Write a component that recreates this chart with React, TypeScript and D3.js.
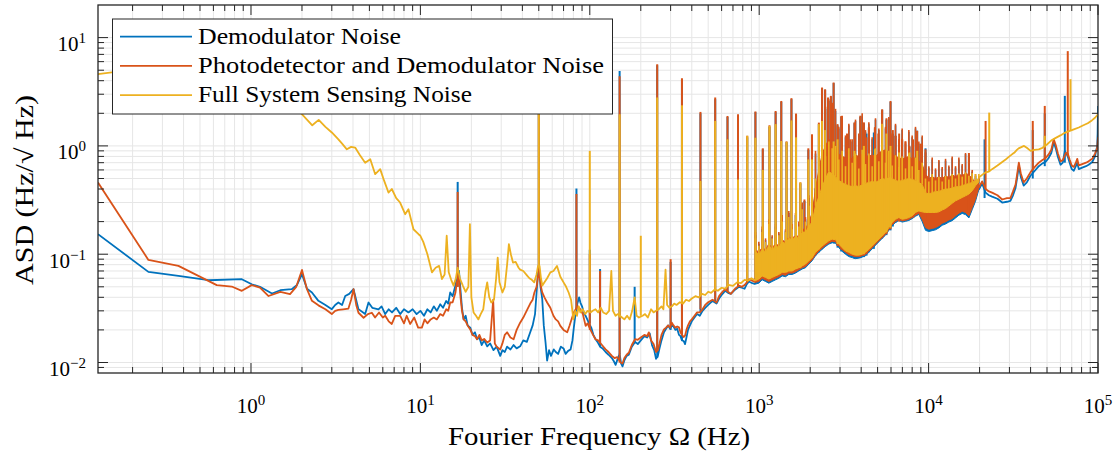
import React from 'react';
import * as d3 from 'd3';

// ---------- axes / labels ----------
const X_DOMAIN = [0.125, 1e5];
const Y_DOMAIN = [0.008, 20];
const xDecades = [0, 1, 2, 3, 4, 5];
const yDecades = [-2, -1, 0, 1];
const seriesNames = ['Demodulator Noise', 'Photodetector and Demodulator Noise', 'Full System Sensing Noise'];
const seriesColors = ['#0072BD', '#D95319', '#EDB120'];
const xTitle = 'Fourier Frequency \u03A9 (Hz)';
const yTitle = 'ASD (Hz/\u221A Hz)';

// ---------- Demodulator noise (blue) ----------
const demodLow = [
  [0.125, 0.153], [0.248, 0.0687], [0.373, 0.063], [0.561, 0.0575], [0.883, 0.0588], [1.01, 0.0528], [1.13, 0.05],
  [1.33, 0.0434], [1.49, 0.0465], [1.74, 0.0475], [1.87, 0.052], [2.0, 0.0654], [2.14, 0.0481], [2.29, 0.0443],
  [2.5, 0.0371], [2.75, 0.034], [3.0, 0.0311], [3.14, 0.034], [3.28, 0.0358], [3.45, 0.034], [3.6, 0.0411],
  [3.8, 0.043], [4.03, 0.0475], [4.31, 0.0311], [4.72, 0.028], [4.94, 0.0358], [5.2, 0.032], [5.66, 0.031],
  [5.9, 0.033], [6.2, 0.028], [6.5, 0.031], [6.8, 0.029], [7.2, 0.032], [7.6, 0.028], [8.0, 0.031], [8.5, 0.029],
  [9.0, 0.031], [9.5, 0.028], [10.0, 0.03], [10.5, 0.027], [11.0, 0.031], [11.5, 0.029], [12.0, 0.033], [12.5, 0.03],
  [13.1, 0.0345], [13.6, 0.032], [14.2, 0.037], [14.6, 0.035], [15.0, 0.0443], [15.5, 0.041], [16.1, 0.0513],
  [16.4, 0.06], [16.9, 0.07], [17.3, 0.044], [17.6, 0.032], [18.0, 0.025], [18.5, 0.027], [19.0, 0.022], [19.7, 0.021],
  [20.3, 0.018], [21.0, 0.019], [21.6, 0.0164], [22.3, 0.017], [23.0, 0.0145], [23.8, 0.016], [24.8, 0.0141],
  [25.8, 0.015], [27.0, 0.013], [28.2, 0.014], [29.6, 0.0115], [30.5, 0.013], [31.5, 0.0125], [32.5, 0.014],
  [34.0, 0.0132], [35.5, 0.0145], [37.0, 0.0135], [38.8, 0.0141], [40.5, 0.016], [42.5, 0.0155], [44.5, 0.019],
  [46.0, 0.022], [47.5, 0.028], [48.8, 0.05], [49.5, 0.07], [50.5, 0.07], [51.2, 0.05], [52.4, 0.0384], [53.5, 0.022],
  [54.8, 0.0153], [56, 0.0104], [57.5, 0.013], [59, 0.0115], [61.3, 0.0132], [63, 0.0125], [65, 0.012], [67.5, 0.014],
  [70, 0.0135], [72, 0.012], [74.5, 0.0128], [77, 0.0132], [79, 0.016], [80.5, 0.021], [82.6, 0.029], [84.5, 0.035],
  [86.5, 0.04], [88, 0.0358], [90, 0.033], [92, 0.029], [94.5, 0.027], [96.6, 0.025], [99, 0.023], [102, 0.021],
  [105, 0.018], [108, 0.0165], [111, 0.0155], [115, 0.014], [119, 0.0135], [124, 0.0125], [129, 0.0118], [135, 0.011],
  [139, 0.0102], [142, 0.0095], [146, 0.0108], [150, 0.012], [153, 0.0098], [156, 0.0092], [160, 0.0105], [165, 0.0115],
  [170, 0.0118], [177, 0.014], [185, 0.0155], [192, 0.0148], [200, 0.016], [210, 0.0175], [218, 0.017], [226, 0.0185],
  [233, 0.0145], [240, 0.013], [246, 0.0108], [252, 0.0115], [258, 0.0135], [265, 0.016], [274, 0.019], [282, 0.0205],
  [290, 0.022], [298, 0.0205], [305, 0.022], [312, 0.0215], [320, 0.02], [328, 0.0205], [336, 0.018], [343, 0.0175],
  [350, 0.016], [358, 0.0158], [365, 0.0148], [372, 0.017], [380, 0.02], [390, 0.022], [400, 0.024], [415, 0.026],
  [430, 0.028], [446, 0.027], [463, 0.03], [480, 0.032], [500, 0.034], [515, 0.0355], [530, 0.037], [545, 0.036],
  [560, 0.035], [580, 0.039], [600, 0.042], [615, 0.044], [630, 0.046], [655, 0.044], [680, 0.043], [720, 0.047],
  [760, 0.05], [790, 0.049], [820, 0.048], [845, 0.053], [870, 0.056], [910, 0.054], [951, 0.053],
];
const demodBandLo = [0.053, 0.054, 0.058, 0.056, 0.054, 0.056, 0.058, 0.060, 0.063, 0.062, 0.065, 0.065, 0.067, 0.070, 0.073, 0.075, 0.081, 0.087, 0.097, 0.104, 0.111, 0.118, 0.124, 0.128, 0.126, 0.115, 0.106, 0.100, 0.095, 0.093, 0.091, 0.092, 0.094, 0.097, 0.104, 0.112, 0.121, 0.130, 0.140, 0.150, 0.166, 0.184, 0.196, 0.205, 0.198, 0.201, 0.205, 0.213, 0.224, 0.233, 0.200, 0.166, 0.162, 0.165, 0.168, 0.175, 0.185, 0.190, 0.198, 0.204, 0.216, 0.229, 0.238, 0.232, 0.216, 0.258, 0.308, 0.395];
const demodBandHi = [
  0.105, 0.1, 0.11, 0.105, 0.12, 0.11, 0.12, 0.115, 0.13, 0.125, 0.14, 0.135, 0.145, 0.14, 0.165, 0.165, 0.19, 0.23,
  0.38, 0.57, 0.8, 0.95, 1.1, 1.05, 0.95,
  0.81, 0.76, 0.74, 0.71, 0.74, 0.78, 0.76, 0.8, 0.78, 0.76, 0.79, 0.76, 0.82, 0.86, 0.87, 0.84, 0.8, 0.76, 0.74, 0.72, 0.74, 0.76, 0.72, 0.74, 0.7, 0.65,
  0.53, 0.48, 0.5, 0.48, 0.5, 0.48, 0.51, 0.49, 0.52, 0.5, 0.53, 0.51, 0.54, 0.52, 0.48, 0.44, 0.45,
];
const demodBandPeak = [
  0.15, 0.125, 0.17, 0.135, 0.2, 0.145, 0.18, 0.155, 0.22, 0.165, 0.24, 0.18, 0.23, 0.19, 0.29, 0.21, 0.33, 0.43,
  0.85, 1.25, 1.8, 2.2, 2.6, 2.4, 2.1,
  1.45, 1.8, 1.2, 1.55, 1.1, 1.7, 1.25, 1.9, 1.35, 1.6, 1.15, 1.75, 1.4, 2.0, 1.45, 1.8, 1.25, 1.55, 1.1, 1.4, 1.05, 1.35, 1.2, 1.45, 1.05, 1.2,
  0.87, 0.63, 0.75, 0.6, 0.72, 0.62, 0.73, 0.64, 0.77, 0.63, 0.75, 0.66, 0.84, 0.6, 0.58, 0.53, 0.5,
];
const demodSpikes = [
  [16.6, 0.05, 0.465], [50, 0.07, 11.5], [83.4, 0.03, 0.404], [100, 0.023, 0.11], [115, 0.014, 0.073],
  [150, 0.012, 4.92], [184, 0.015, 0.05], [250, 0.011, 5.55], [300, 0.02, 0.085], [350, 0.016, 4.1],
  [450, 0.029, 2.0], [550, 0.036, 2.7], [650, 0.045, 1.85], [750, 0.05, 1.9], [850, 0.054, 1.2], [950, 0.055, 2.05],
  [1050, 0.06, 0.93], [1150, 0.063, 1.5], [1250, 0.063, 2.05], [1350, 0.065, 2.55], [1450, 0.068, 1.08],
  [1550, 0.07, 2.7], [1650, 0.072, 1.95], [1750, 0.075, 0.45], [1850, 0.08, 0.31], [1950, 0.085, 0.92],
  [2050, 0.09, 1.25], [2150, 0.097, 0.4], [2250, 0.104, 1.6], [2350, 0.111, 3.4], [2450, 0.118, 3.3],
  [2550, 0.124, 2.75], [2650, 0.126, 2.85], [2750, 0.126, 3.8], [2900, 0.115, 1.55], [3050, 0.106, 1.85],
  [3300, 0.1, 1.25], [3650, 0.091, 1.62], [3950, 0.092, 1.85], [4150, 0.094, 1.62], [4300, 0.097, 1.3],
  [4440, 0.104, 1.45], [4750, 0.112, 1.33], [4820, 0.121, 1.45], [5320, 0.14, 2.15], [5640, 0.15, 1.75],
  [5960, 0.166, 2.55], [6150, 0.18, 1.3], [6380, 0.196, 1.24], [6980, 0.205, 1.13], [7710, 0.213, 0.98],
  [8560, 0.233, 1.38], [9000, 0.22, 1.0], [9590, 0.2, 0.95], [17300, 0.23, 0.82], [21400, 0.33, 1.15],
  [41200, 0.5, 1.4], [48500, 0.65, 2.0], [63700, 0.7, 2.9],
];
const demodTail = [
  [19800, 0.395], [20700, 0.45], [21700, 0.37], [22700, 0.35], [23700, 0.34], [25500, 0.325], [27200, 0.3],
  [29000, 0.305], [30400, 0.31], [31500, 0.35], [32600, 0.41], [33400, 0.52], [34100, 0.66], [35000, 0.52],
  [36400, 0.43], [38000, 0.46], [39900, 0.53], [42000, 0.58], [44700, 0.65], [47000, 0.69], [49000, 0.71],
  [51000, 0.77], [53000, 0.86], [54800, 1.08], [56500, 0.93], [58000, 0.79], [60100, 0.67], [62000, 0.7],
  [63700, 0.9], [66300, 0.8], [68000, 0.7], [70000, 0.61], [72000, 0.59], [74000, 0.65], [75400, 0.7], [77000, 0.61],
  [80700, 0.63], [85000, 0.65], [88000, 0.67], [92500, 0.71], [96000, 0.8], [98900, 1.0], [99500, 1.3], [100000, 2.34],
];

// ---------- Photodetector and demodulator noise (orange) ----------
const pdLow = [
  [0.125, 0.459], [0.248, 0.0886], [0.373, 0.078], [0.628, 0.0518], [0.77, 0.0503], [0.883, 0.0459], [1.01, 0.0518],
  [1.13, 0.0492], [1.27, 0.0411], [1.49, 0.0449], [1.7, 0.0428], [1.85, 0.05], [2.0, 0.0716], [2.14, 0.0475],
  [2.29, 0.0371], [2.5, 0.0337], [2.75, 0.031], [3.0, 0.028], [3.14, 0.03], [3.28, 0.0306], [3.5, 0.031],
  [3.76, 0.0315], [3.9, 0.038], [4.03, 0.0475], [4.18, 0.034], [4.31, 0.0288], [4.62, 0.0259], [4.9, 0.028],
  [5.17, 0.0288], [5.4, 0.026], [5.7, 0.029], [6.0, 0.026], [6.2, 0.027], [6.5, 0.024], [6.78, 0.0227], [7.1, 0.027],
  [7.6, 0.027], [8.0, 0.023], [8.3, 0.027], [8.7, 0.0227], [9.2, 0.026], [9.7, 0.021], [10.2, 0.021], [10.6, 0.025],
  [11.0, 0.023], [11.5, 0.025], [12.0, 0.026], [12.5, 0.025], [13.1, 0.028], [13.6, 0.027], [14.2, 0.031],
  [14.6, 0.03], [15.0, 0.0358], [15.5, 0.036], [16.1, 0.044], [16.4, 0.055], [16.9, 0.06], [17.3, 0.0384],
  [17.6, 0.03], [18.0, 0.025], [18.5, 0.024], [19.0, 0.022], [19.7, 0.0202], [20.3, 0.018], [21.0, 0.0175],
  [21.6, 0.0164], [22.3, 0.018], [23.0, 0.016], [23.8, 0.0165], [24.8, 0.0153], [25.8, 0.016], [26.9, 0.038],
  [27.5, 0.015], [28.2, 0.014], [29.6, 0.0132], [30.5, 0.015], [31.5, 0.018], [32.5, 0.019], [34.0, 0.017],
  [35.5, 0.0164], [37.0, 0.02], [38.8, 0.0233], [40.5, 0.026], [42.8, 0.031], [44.5, 0.035], [46.0, 0.038],
  [47.1, 0.0443], [48.5, 0.05], [49.5, 0.063], [50.5, 0.063], [51.5, 0.05], [52.4, 0.0443], [54, 0.04], [56, 0.0358],
  [58.5, 0.032], [61, 0.027], [63, 0.025], [65, 0.024], [67, 0.0218], [70, 0.02], [73.6, 0.019], [76, 0.022],
  [78, 0.025], [80.4, 0.029], [82.6, 0.031], [85, 0.033], [88, 0.031], [91, 0.028], [94.5, 0.0218], [97, 0.023],
  [101, 0.02], [104.5, 0.018], [108, 0.0164], [112, 0.016], [118, 0.0145], [124, 0.0132], [129, 0.0125],
  [135, 0.0115], [140, 0.011], [145, 0.0112], [148, 0.0107], [152, 0.01], [156, 0.0098], [160, 0.011], [165, 0.0118],
  [170, 0.0123], [177, 0.0145], [185, 0.0164], [192, 0.0162], [200, 0.017], [210, 0.018], [218, 0.0175], [223, 0.019],
  [230, 0.016], [238, 0.0148], [246, 0.0125], [252, 0.013], [258, 0.015], [265, 0.018], [274, 0.0202], [282, 0.021],
  [290, 0.022], [298, 0.021], [305, 0.0233], [312, 0.022], [320, 0.021], [328, 0.0215], [336, 0.0211], [343, 0.019],
  [350, 0.018], [358, 0.0172], [365, 0.0177], [372, 0.02], [380, 0.022], [390, 0.024], [400, 0.025], [415, 0.027],
  [430, 0.029], [446, 0.029], [463, 0.031], [480, 0.034], [500, 0.036], [515, 0.037], [530, 0.038], [545, 0.037],
  [560, 0.0358], [580, 0.041], [600, 0.044], [615, 0.046], [630, 0.0475], [655, 0.045], [680, 0.043], [720, 0.048],
  [760, 0.0513], [790, 0.05], [820, 0.052], [845, 0.055], [870, 0.0588], [910, 0.057], [951, 0.055],
];
const pdBandLo = [0.055, 0.056, 0.060, 0.058, 0.056, 0.058, 0.060, 0.062, 0.065, 0.064, 0.067, 0.067, 0.069, 0.072, 0.075, 0.077, 0.083, 0.089, 0.099, 0.107, 0.114, 0.121, 0.127, 0.132, 0.130, 0.119, 0.110, 0.104, 0.099, 0.097, 0.095, 0.095, 0.097, 0.100, 0.107, 0.115, 0.124, 0.133, 0.143, 0.153, 0.170, 0.188, 0.201, 0.210, 0.203, 0.206, 0.210, 0.218, 0.229, 0.239, 0.210, 0.176, 0.170, 0.173, 0.176, 0.183, 0.193, 0.199, 0.207, 0.213, 0.226, 0.239, 0.249, 0.243, 0.226, 0.270, 0.322, 0.413];
const pdBandHi = [
  0.11, 0.105, 0.115, 0.11, 0.125, 0.115, 0.125, 0.12, 0.135, 0.13, 0.145, 0.14, 0.15, 0.145, 0.17, 0.17, 0.2, 0.24,
  0.4, 0.6, 0.85, 1.0, 1.15, 1.1, 1.0,
  0.85, 0.8, 0.78, 0.75, 0.78, 0.82, 0.8, 0.84, 0.82, 0.8, 0.83, 0.8, 0.86, 0.9, 0.92, 0.88, 0.84, 0.8, 0.78, 0.76, 0.78, 0.8, 0.76, 0.78, 0.74, 0.68,
  0.55, 0.5, 0.52, 0.5, 0.52, 0.5, 0.53, 0.51, 0.54, 0.52, 0.55, 0.53, 0.56, 0.54, 0.5, 0.46, 0.47,
];
const pdBandPeak = [
  0.16, 0.13, 0.18, 0.14, 0.21, 0.15, 0.19, 0.16, 0.23, 0.17, 0.25, 0.19, 0.24, 0.2, 0.3, 0.22, 0.35, 0.45,
  0.9, 1.3, 1.9, 2.3, 2.7, 2.5, 2.2,
  1.5, 1.9, 1.25, 1.6, 1.15, 1.75, 1.3, 2.0, 1.4, 1.65, 1.2, 1.8, 1.45, 2.1, 1.5, 1.85, 1.3, 1.6, 1.15, 1.45, 1.1, 1.4, 1.25, 1.5, 1.1, 1.25,
  0.87, 0.65, 0.78, 0.62, 0.74, 0.64, 0.76, 0.66, 0.8, 0.65, 0.78, 0.68, 0.86, 0.62, 0.6, 0.55, 0.52,
];
const pdSpikes = [
  [16.6, 0.05, 0.376], [50, 0.063, 10.8], [83.4, 0.031, 0.36], [100, 0.02, 0.1], [115, 0.015, 0.07],
  [150, 0.01, 4.4], [250, 0.013, 5.68], [300, 0.022, 0.09], [350, 0.018, 4.21], [450, 0.031, 2.06],
  [550, 0.038, 2.8], [650, 0.046, 1.89], [750, 0.051, 1.96], [850, 0.055, 1.24], [950, 0.056, 2.08],
  [1050, 0.062, 0.95], [1150, 0.065, 1.55], [1250, 0.065, 2.1], [1350, 0.067, 2.6], [1450, 0.07, 1.1],
  [1550, 0.072, 2.76], [1650, 0.075, 1.99], [1750, 0.077, 0.46], [1850, 0.083, 0.32], [1950, 0.089, 0.95],
  [2050, 0.094, 1.28], [2150, 0.099, 0.41], [2250, 0.107, 1.64], [2350, 0.114, 3.46], [2450, 0.121, 3.33],
  [2550, 0.127, 2.8], [2650, 0.132, 2.9], [2750, 0.13, 3.85], [2900, 0.119, 1.59], [3050, 0.11, 1.89],
  [3300, 0.104, 1.3], [3450, 0.099, 1.15], [3650, 0.095, 1.65], [3950, 0.095, 1.9], [4150, 0.097, 1.65],
  [4300, 0.1, 1.2], [4440, 0.107, 1.49], [4820, 0.124, 1.49], [5050, 0.133, 1.3], [5320, 0.143, 2.18],
  [5640, 0.153, 1.8], [5960, 0.17, 2.6], [6150, 0.19, 1.4], [6380, 0.201, 1.24], [6700, 0.2, 1.3],
  [6980, 0.21, 1.16], [7300, 0.206, 1.1], [7710, 0.218, 1.0], [8100, 0.218, 1.15], [8560, 0.239, 1.38],
  [9000, 0.229, 1.05], [9590, 0.21, 0.93], [17300, 0.243, 0.86], [21700, 0.4, 1.7], [41200, 0.6, 1.7],
  [48500, 0.75, 2.34], [66300, 0.8, 7.5],
];
const pdTail = [
  [19800, 0.413], [20700, 0.47], [21700, 0.4], [22700, 0.38], [23700, 0.37], [25500, 0.35], [27200, 0.32],
  [29000, 0.33], [30400, 0.33], [31500, 0.38], [32600, 0.44], [33400, 0.56], [34100, 0.7], [35000, 0.56],
  [36400, 0.46], [38000, 0.5], [39900, 0.57], [42000, 0.63], [44700, 0.7], [47000, 0.74], [49000, 0.77],
  [51000, 0.83], [53000, 0.92], [54800, 1.15], [56500, 1.0], [58000, 0.85], [60100, 0.72], [62000, 0.74],
  [64500, 0.86], [66300, 0.85], [68000, 0.75], [70000, 0.66], [72000, 0.64], [74000, 0.7], [75400, 0.76],
  [77000, 0.66], [80700, 0.68], [85000, 0.7], [88000, 0.72], [92500, 0.76], [96000, 0.85], [98900, 0.95], [100000, 1.2],
];

// ---------- Full system sensing noise (yellow) ----------
const fullLow = [
  [0.125, 4.59], [0.255, 5.3], [0.367, 5.03], [0.5, 4.4], [0.632, 3.85], [0.757, 3.79], [0.867, 3.22], [0.97, 3.22],
  [1.11, 3.85], [1.25, 3.53], [1.4, 3.1], [1.56, 2.7], [1.75, 2.35], [1.96, 2.03], [2.14, 1.75], [2.3, 1.55],
  [2.51, 1.74], [2.75, 1.5], [3.0, 1.33], [3.28, 1.15], [3.45, 1.05], [3.68, 0.93], [3.9, 0.98], [4.12, 0.966],
  [4.4, 0.82], [4.72, 0.7], [5.06, 0.754], [5.41, 0.548], [5.79, 0.61], [6.1, 0.48], [6.48, 0.371], [6.78, 0.4],
  [7.2, 0.33], [7.59, 0.3], [8.13, 0.234], [8.5, 0.26], [9.1, 0.17], [9.75, 0.153], [10.0, 0.148], [10.4, 0.13],
  [11.0, 0.1], [11.7, 0.068], [12.3, 0.075], [12.9, 0.078], [13.4, 0.059], [13.9, 0.065], [14.3, 0.148],
  [14.7, 0.068], [15.2, 0.058], [15.7, 0.0513], [16.2, 0.06], [16.6, 0.075], [17.1, 0.06], [17.8, 0.0513],
  [18.5, 0.045], [19.2, 0.05], [19.6, 0.189], [20.0, 0.04], [20.6, 0.029], [21.3, 0.027], [22.0, 0.025],
  [22.7, 0.028], [23.5, 0.031], [24.2, 0.045], [24.8, 0.055], [25.5, 0.04], [26.2, 0.0358], [27.2, 0.038],
  [28.0, 0.06], [28.6, 0.093], [29.3, 0.055], [30.5, 0.0443], [31.5, 0.05], [32.5, 0.08], [33.3, 0.124],
  [34.2, 0.1], [35.2, 0.0837], [36.5, 0.085], [38, 0.075], [38.8, 0.072], [40.5, 0.07], [42.8, 0.063], [44, 0.06],
  [45.5, 0.058], [47, 0.055], [48.5, 0.065], [49.5, 0.078], [50.5, 0.078], [51.5, 0.06], [52.5, 0.0513], [54, 0.055],
  [56, 0.06], [58.5, 0.068], [61, 0.07], [64, 0.078], [67, 0.062], [70, 0.055], [72.5, 0.05], [75, 0.0443],
  [77.5, 0.038], [80, 0.025], [82, 0.03], [84, 0.027], [86, 0.033], [88, 0.029], [91, 0.031], [94, 0.028], [97, 0.03],
  [101, 0.029], [104, 0.03], [108, 0.031], [112, 0.029], [116, 0.032], [120, 0.029], [125, 0.028], [130, 0.03],
  [134, 0.07], [137, 0.03], [142, 0.027], [146, 0.028], [155, 0.026], [160, 0.025], [166, 0.027], [172, 0.025],
  [178, 0.03], [184, 0.04], [189, 0.027], [195, 0.026], [205, 0.027], [212, 0.028], [220, 0.026], [230, 0.031],
  [238, 0.029], [246, 0.03], [255, 0.031], [265, 0.033], [272, 0.031], [280, 0.072], [286, 0.034], [295, 0.032],
  [305, 0.033], [315, 0.035], [325, 0.034], [340, 0.036], [355, 0.035], [370, 0.038], [385, 0.037], [400, 0.039],
  [420, 0.041], [440, 0.04], [460, 0.043], [480, 0.042], [500, 0.045], [520, 0.044], [545, 0.047], [570, 0.046],
  [600, 0.049], [630, 0.048], [660, 0.052], [700, 0.051], [740, 0.055], [780, 0.054], [820, 0.058], [860, 0.057],
  [900, 0.06], [951, 0.057],
];
const fullBandLo = [0.057, 0.059, 0.063, 0.061, 0.059, 0.061, 0.063, 0.065, 0.068, 0.068, 0.070, 0.070, 0.073, 0.075, 0.078, 0.081, 0.087, 0.093, 0.104, 0.111, 0.119, 0.126, 0.133, 0.138, 0.136, 0.124, 0.115, 0.107, 0.104, 0.100, 0.098, 0.098, 0.100, 0.104, 0.111, 0.119, 0.128, 0.138, 0.148, 0.159, 0.176, 0.196, 0.210, 0.218, 0.210, 0.213, 0.218, 0.226, 0.243, 0.251, 0.246, 0.243, 0.243, 0.243, 0.243, 0.246, 0.256, 0.264, 0.279, 0.295, 0.311, 0.322, 0.334, 0.346, 0.359, 0.385, 0.428, 0.466];
const fullBandHi = [
  0.105, 0.1, 0.11, 0.105, 0.12, 0.11, 0.12, 0.115, 0.13, 0.125, 0.14, 0.135, 0.145, 0.14, 0.16, 0.16, 0.18, 0.2,
  0.28, 0.34, 0.42, 0.5, 0.58, 0.55, 0.52,
  0.48, 0.46, 0.44, 0.43, 0.42, 0.43, 0.42, 0.44, 0.45, 0.46, 0.47, 0.46, 0.48, 0.5, 0.49, 0.51, 0.5, 0.48, 0.47, 0.48, 0.49, 0.5, 0.49, 0.48, 0.46, 0.44,
  0.37, 0.36, 0.37, 0.38, 0.38, 0.39, 0.4, 0.4, 0.41, 0.42, 0.42, 0.43, 0.44, 0.45, 0.46, 0.48, 0.5,
];
const fullBandPeak = [
  0.14, 0.12, 0.16, 0.13, 0.19, 0.14, 0.17, 0.15, 0.2, 0.16, 0.22, 0.17, 0.21, 0.18, 0.26, 0.2, 0.28, 0.3,
  0.5, 0.65, 0.9, 0.8, 1.1, 0.95, 1.0,
  0.75, 0.9, 0.65, 0.95, 0.7, 0.85, 0.62, 0.92, 0.68, 0.85, 0.65, 0.95, 0.72, 1.05, 0.7, 0.9, 0.66, 0.82, 0.64, 0.8, 0.62, 0.85, 0.65, 0.78, 0.6, 0.7,
  0.5, 0.47, 0.55, 0.48, 0.52, 0.47, 0.53, 0.49, 0.55, 0.5, 0.56, 0.52, 0.57, 0.53, 0.56, 0.55, 0.55,
];
const fullSpikes = [
  [50, 0.078, 10.3], [100, 0.03, 0.9], [150, 0.026, 1.96], [200, 0.027, 0.148], [250, 0.03, 2.8], [350, 0.035, 2.37],
  [450, 0.042, 0.475], [550, 0.046, 1.7], [650, 0.05, 1.15], [750, 0.054, 0.49], [850, 0.058, 1.24], [950, 0.06, 1.19],
  [1050, 0.063, 0.6], [1150, 0.059, 1.53], [1250, 0.063, 1.59], [1350, 0.068, 1.11], [1450, 0.068, 1.09],
  [1550, 0.07, 1.72], [1650, 0.073, 1.2], [1750, 0.075, 0.46], [1950, 0.087, 0.75], [2050, 0.093, 0.75],
  [2250, 0.111, 1.59], [2350, 0.119, 1.7], [2450, 0.126, 1.4], [2750, 0.136, 1.1], [2900, 0.124, 1.15],
  [3650, 0.1, 0.9], [4150, 0.1, 1.0], [4820, 0.128, 0.93], [5320, 0.148, 1.6], [5640, 0.159, 1.3], [5960, 0.176, 1.0],
  [6700, 0.218, 0.87], [7710, 0.226, 0.87], [8560, 0.25, 0.9], [22800, 0.58, 2.03], [48500, 0.97, 1.24],
  [68800, 1.38, 4.13],
];
const fullTail = [
  [19800, 0.511], [20700, 0.54], [21700, 0.57], [22700, 0.58], [23700, 0.61], [25500, 0.66], [27200, 0.71],
  [28500, 0.75], [30000, 0.8], [31200, 0.84], [32200, 0.87], [33200, 0.92], [34000, 0.95], [35000, 0.97],
  [36600, 1.0], [38000, 0.96], [40000, 0.9], [42000, 0.92], [44700, 0.93], [47000, 0.96], [50000, 1.03],
  [52900, 1.12], [56000, 1.18], [60000, 1.25], [63000, 1.31], [67000, 1.36], [72000, 1.42], [77000, 1.48],
  [82000, 1.55], [87000, 1.62], [92000, 1.72], [96000, 1.82], [100000, 1.96],
];

// shared frequency grid of the dense 1 kHz - 20 kHz band
const bandFreqs = [951, 995, 1041, 1090, 1140, 1193, 1249, 1306, 1367, 1430, 1496, 1566, 1638, 1714, 1794, 1877, 1964, 2055, 2150, 2250, 2354, 2463, 2577, 2697, 2822, 2952, 3089, 3232, 3382, 3539, 3703, 3874, 4054, 4242, 4439, 4644, 4859, 5085, 5321, 5567, 5825, 6095, 6378, 6673, 6982, 7306, 7645, 7999, 8369, 8757, 9166, 9590, 10030, 10500, 10990, 11500, 12030, 12590, 13170, 13780, 14420, 15090, 15790, 16520, 17290, 18090, 18920, 19800];

const PLOT = { left: 98, right: 1098, top: 5, bottom: 373 };
const FONT = "'Liberation Serif', 'Times New Roman', serif";

export default function App() {
  const x = d3.scaleLog().domain(X_DOMAIN).range([PLOT.left, PLOT.right]);
  const y = d3.scaleLog().domain(Y_DOMAIN).range([PLOT.bottom, PLOT.top]);
  const lineGen = d3.line<number[]>().x(d => x(d[0])).y(d => y(d[1]));
  const areaGen = d3.area<number[]>().x(d => x(d[0])).y0(d => y(d[1])).y1(d => y(d[2]));

  const series = [
    { low: demodLow, lo: demodBandLo, hi: demodBandHi, pk: demodBandPeak, spikes: demodSpikes, tail: demodTail },
    { low: pdLow, lo: pdBandLo, hi: pdBandHi, pk: pdBandPeak, spikes: pdSpikes, tail: pdTail },
    { low: fullLow, lo: fullBandLo, hi: fullBandHi, pk: fullBandPeak, spikes: fullSpikes, tail: fullTail },
  ];

  const isMajor = (v: number) => Math.abs(Math.log10(v) - Math.round(Math.log10(v))) < 1e-6;
  const inside = (v: number, dom: number[]) => v > dom[0] * 1.0001 && v < dom[1] * 0.9999;
  const xTicks = x.ticks().filter(v => inside(v, X_DOMAIN) || isMajor(v));
  const yTicks = y.ticks().filter(v => inside(v, Y_DOMAIN));
  const tickColor = '#262626';
  const gridColor = '#e6e6e6';
  const LW = 1.8;

  return (
    <svg width={1117} height={457} style={{ position: 'absolute', left: 0, top: 0, background: '#fff' }}
      fontFamily={FONT}>
      <defs>
        <clipPath id="plotClip">
          <rect x={PLOT.left} y={PLOT.top} width={PLOT.right - PLOT.left} height={PLOT.bottom - PLOT.top} />
        </clipPath>
      </defs>
      <rect x={0} y={0} width={1117} height={457} fill="#fff" />
      {/* grid */}
      <g stroke={gridColor} strokeWidth={1}>
        {xTicks.filter(v => inside(v, X_DOMAIN)).map((v, i) => (
          <line key={'gx' + i} x1={x(v)} x2={x(v)} y1={PLOT.top} y2={PLOT.bottom} />
        ))}
        {yTicks.map((v, i) => (
          <line key={'gy' + i} x1={PLOT.left} x2={PLOT.right} y1={y(v)} y2={y(v)} />
        ))}
      </g>
      {/* data */}
      <g clipPath="url(#plotClip)" fill="none" strokeLinejoin="round">
        {series.map((s, si) => {
          const n = Math.min(bandFreqs.length, s.lo.length, s.hi.length, s.pk.length);
          const band = bandFreqs.slice(0, n).map((f, i) => [f, s.lo[i], s.hi[i]]);
          const c = seriesColors[si];
          return (
            <g key={'s' + si}>
              <path d={lineGen(s.low) || ''} stroke={c} strokeWidth={LW} />
              <path d={areaGen(band) || ''} fill={c} stroke={c} strokeWidth={1} />
              {band.map((b, i) => (
                <line key={'bp' + i} x1={x(b[0])} x2={x(b[0])} y1={y(b[2])} y2={y(s.pk[i])}
                  stroke={c} strokeWidth={1.6} />
              ))}
              <path d={lineGen(s.tail) || ''} stroke={c} strokeWidth={LW} />
              {s.spikes.map((p, i) => (
                <line key={'sp' + i} x1={x(p[0])} x2={x(p[0])} y1={y(p[1])} y2={y(p[2])}
                  stroke={c} strokeWidth={2} />
              ))}
            </g>
          );
        })}
      </g>
      {/* ticks */}
      <g stroke={tickColor} strokeWidth={1}>
        {xTicks.map((v, i) => {
          const len = isMajor(v) ? 10 : 6;
          const X = x(v);
          return (
            <g key={'tx' + i}>
              <line x1={X} x2={X} y1={PLOT.bottom} y2={PLOT.bottom - len} />
              <line x1={X} x2={X} y1={PLOT.top} y2={PLOT.top + len} />
            </g>
          );
        })}
        {yTicks.map((v, i) => {
          const len = isMajor(v) ? 10 : 6;
          const Y = y(v);
          return (
            <g key={'ty' + i}>
              <line x1={PLOT.left} x2={PLOT.left + len} y1={Y} y2={Y} />
              <line x1={PLOT.right} x2={PLOT.right - len} y1={Y} y2={Y} />
            </g>
          );
        })}
      </g>
      <rect x={PLOT.left} y={PLOT.top} width={PLOT.right - PLOT.left} height={PLOT.bottom - PLOT.top}
        fill="none" stroke={tickColor} strokeWidth={1.3} />
      {/* tick labels */}
      <g fill="#000" fontSize={21}>
        {xDecades.map(e => (
          <text key={'lx' + e} x={x(Math.pow(10, e))} y={413} textAnchor="middle">
            <tspan>10</tspan>
            <tspan fontSize={15} dy={-8}>{String(e)}</tspan>
          </text>
        ))}
        {yDecades.map(e => (
          <text key={'ly' + e} x={86} y={y(Math.pow(10, e)) + 13.5} textAnchor="end">
            <tspan>10</tspan>
            <tspan fontSize={15} dy={-8}>{e < 0 ? '\u2212' + Math.abs(e) : String(e)}</tspan>
          </text>
        ))}
      </g>
      {/* axis titles */}
      <text x={599} y={445} textAnchor="middle" fontSize={25} textLength={302} lengthAdjust="spacingAndGlyphs">{xTitle}</text>
      <text transform="translate(33,190) rotate(-90)" textAnchor="middle" fontSize={25} textLength={190}
        lengthAdjust="spacingAndGlyphs">{yTitle}</text>
      {/* legend */}
      <g>
        <rect x={112.5} y={19} width={500} height={95} fill="#fff" stroke={tickColor} strokeWidth={1} />
        {seriesNames.map((name, i) => {
          const ly = 36.7 + i * 29.2;
          const widths = [203, 406, 274];
          return (
            <g key={'lg' + i}>
              <line x1={120} x2={192} y1={ly} y2={ly} stroke={seriesColors[i]} strokeWidth={LW} />
              <text x={198} y={ly + 7.3} fontSize={23} textLength={widths[i]} lengthAdjust="spacingAndGlyphs">{name}</text>
            </g>
          );
        })}
      </g>
    </svg>
  );
}
